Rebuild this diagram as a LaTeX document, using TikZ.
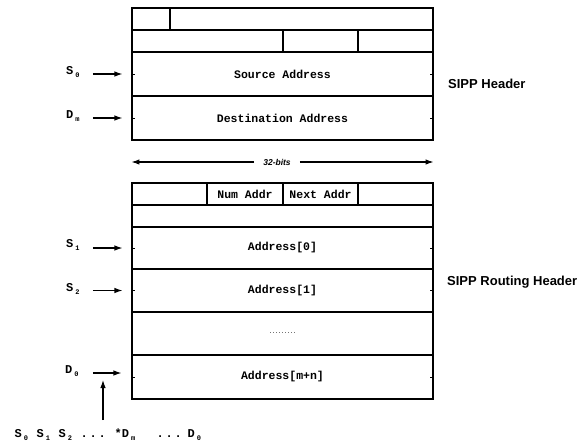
\documentclass[tikz,border=0pt]{standalone}
\usepackage{fontspec}
\setmainfont{Liberation Sans}
\newfontfamily\cour{Liberation Mono}
\usetikzlibrary{arrows.meta,calc}
\newcommand\lowsub[1]{\hspace{2pt}\raisebox{-0.6ex}{\fontsize{7}{8}\selectfont #1}}
\newcommand\posit[2]{\makebox[0pt][l]{\hspace{#1pt}#2}}
\begin{document}
\begin{tikzpicture}[x=1pt,y=-1pt,
  fld/.style={draw, line width=1.1pt, inner sep=0, minimum height=22pt,
    font=\cour\bfseries\fontsize{11.5}{13}\selectfont},
  big/.style={fld, minimum width=301pt},
  lab/.style={font=\cour\bfseries\fontsize{12}{13}\selectfont, inner sep=0, anchor=base west},
  hd/.style={font=\bfseries\fontsize{13}{15}\selectfont, anchor=west, inner sep=0},
  arr/.style={-{Latex[length=8pt,width=5.5pt]}, line width=1.1pt},
  tickmark/.style={line width=0.9pt}]
\useasboundingbox (0,0) rectangle (588,442);
% ---------- SIPP header ----------
\node[fld, minimum width=38pt]  (a1) at (151,19) {};
\node[fld, minimum width=263pt] (a2) at (301.5,19) {};
\node[fld, minimum width=151pt] (b1) at (207.5,41) {};
\node[fld, minimum width=75pt]  (b2) at (320.5,41) {};
\node[fld, minimum width=75pt]  (b3) at (395.5,41) {};
\node[big, minimum height=44pt] (src) at (282.5,74) {Source Address};
\node[big, minimum height=44pt] (dst) at (282.5,118) {Destination Address};
\foreach \n in {src,dst}{
  \draw[tickmark] (\n.west) -- ++(4,0);
  \draw[tickmark] (\n.east) -- ++(-4,0);
}
\node[hd] (h1) at (448,84) {SIPP Header};
% labels
\node[lab] (s0) at (66,74) {S\lowsub{0}};
\node[lab] (dm) at (66,118) {D\lowsub{m}};
\draw[arr, shorten <=13pt, shorten >=9pt] (s0.east |- src.west) -- (src.west);
\draw[arr, shorten <=13pt, shorten >=9pt] (dm.east |- dst.west) -- (dst.west);
% ---------- 32 bits ----------
\node[font=\bfseries\itshape\fontsize{8.5}{10}\selectfont, inner xsep=9pt, inner ysep=0] (bits) at (277,162) {32-bits};
\draw[arr] (bits.west) -- (bits.west -| dst.west);
\draw[arr] (bits.east) -- (bits.east -| dst.east);
% ---------- SIPP routing header ----------
\node[fld, minimum width=75pt] (c1) at (169.5,194) {};
\node[fld, minimum width=76pt] (c2) at (245,194) {Num Addr};
\node[fld, minimum width=75pt] (c3) at (320.5,194) {Next Addr};
\node[fld, minimum width=75pt] (c4) at (395.5,194) {};
\node[big] (r2) at (282.5,216) {};
\node[big, minimum height=42pt] (ad0) at (282.5,248) {Address[0]};
\node[big, minimum height=43pt] (ad1) at (282.5,290.5) {Address[1]};
\node[big, minimum height=43pt] (adots) at (282.5,333.5) {\fontsize{5}{6}\selectfont .........};
\node[big, minimum height=44pt] (admn) at (282.5,377) {Address[m+n]};
\foreach \n in {ad0,ad1,admn}{
  \draw[tickmark] (\n.west) -- ++(4,0);
  \draw[tickmark] (\n.east) -- ++(-4,0);
}
\node[hd] (h2) at (447,282) {SIPP Routing Header};
\node[lab] (s1) at (66,247) {S\lowsub{1}};
\node[lab] (s2) at (66,291) {S\lowsub{2}};
\node[lab] (d0) at (65,373) {D\lowsub{0}};
\draw[arr, shorten <=13pt, shorten >=9pt] (s1.east |- ad0.west) -- (ad0.west);
\draw[arr, shorten <=13pt, shorten >=9pt] (s2.east |- ad1.west) -- (ad1.west);
\draw[arr, shorten <=14pt, shorten >=10pt] ([yshift=4pt]admn.west -| d0.east) -- ([yshift=4pt]admn.west);
% ---------- bottom sequence ----------
\node[lab] (seq) at (14,437) {\posit{0}{S\lowsub{0}}\posit{22}{S\lowsub{1}}\posit{44}{S\lowsub{2}}%
  \posit{66}{.}\posit{75}{.}\posit{84}{.}\posit{100}{*D\lowsub{m}}%
  \posit{142}{.}\posit{151}{.}\posit{160}{.}\posit{173}{D\lowsub{0}}\hspace{187pt}};
\coordinate (vtip) at (103,380);
\draw[arr] ([yshift=8pt]seq.north -| vtip) -- (vtip);
\end{tikzpicture}
\end{document}
